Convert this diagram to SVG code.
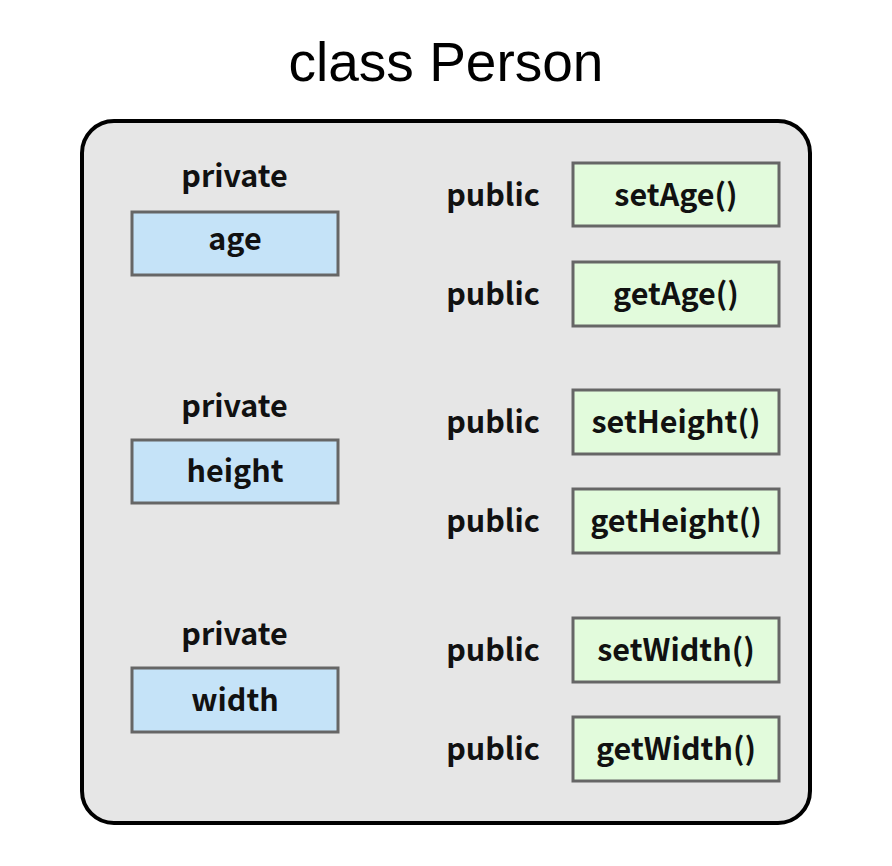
<svg xmlns="http://www.w3.org/2000/svg" width="892" height="866" viewBox="0 0 892 866">
<style>
.lbl{font-family:"Noto Sans CJK JP","Noto Sans",sans-serif;font-weight:bold;font-size:30.5px;fill:#111;text-anchor:middle}
.priv{fill:#c5e3f8;stroke:#666;stroke-width:3}
.meth{fill:#e2fbdc;stroke:#666;stroke-width:3}
</style>
<rect width="892" height="866" fill="#ffffff"/>
<text x="446" y="80.5" font-family="Liberation Sans, Arial, sans-serif" font-size="55" text-anchor="middle" fill="#000">class Person</text>
<g id="class-person">
<rect x="82" y="121" width="728" height="702" rx="32" ry="32" fill="#e6e6e6" stroke="#000" stroke-width="4"/>
</g>
<g id="age">
<text class="lbl" x="234.5" y="187">private</text>
<rect class="priv" x="132" y="212" width="206" height="63"/>
<text class="lbl" x="235" y="249.5">age</text>
</g>
<g id="height">
<text class="lbl" x="234.5" y="417">private</text>
<rect class="priv" x="132" y="440" width="206" height="63"/>
<text class="lbl" x="235" y="481.5">height</text>
</g>
<g id="width">
<text class="lbl" x="234.5" y="645">private</text>
<rect class="priv" x="132" y="668" width="206" height="64"/>
<text class="lbl" x="235" y="711">width</text>
</g>
<g id="setAge">
<text class="lbl" x="493" y="206">public</text>
<rect class="meth" x="573" y="163" width="206" height="63"/>
<text class="lbl" x="676" y="206">setAge()</text>
</g>
<g id="getAge">
<text class="lbl" x="493" y="305">public</text>
<rect class="meth" x="573" y="262" width="206" height="64"/>
<text class="lbl" x="676" y="305">getAge()</text>
</g>
<g id="setHeight">
<text class="lbl" x="493" y="433">public</text>
<rect class="meth" x="573" y="390" width="206" height="64"/>
<text class="lbl" x="676" y="433">setHeight()</text>
</g>
<g id="getHeight">
<text class="lbl" x="493" y="532">public</text>
<rect class="meth" x="573" y="489" width="206" height="64"/>
<text class="lbl" x="676" y="532">getHeight()</text>
</g>
<g id="setWidth">
<text class="lbl" x="493" y="661">public</text>
<rect class="meth" x="573" y="618" width="206" height="64"/>
<text class="lbl" x="676" y="661">setWidth()</text>
</g>
<g id="getWidth">
<text class="lbl" x="493" y="760">public</text>
<rect class="meth" x="573" y="717" width="206" height="64"/>
<text class="lbl" x="676" y="760">getWidth()</text>
</g>
<g id="connectors"></g>
</svg>
